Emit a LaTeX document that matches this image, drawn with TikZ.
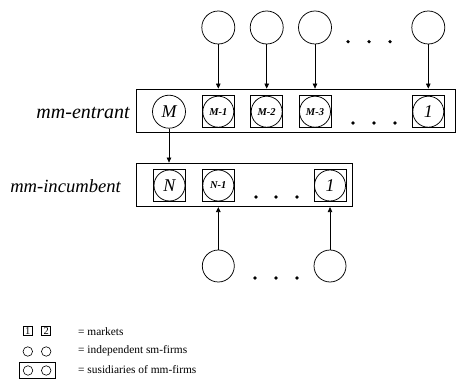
\documentclass[tikz,border=0pt]{standalone}
\usepackage{fontspec}
\setmainfont{Liberation Serif}
\usetikzlibrary{arrows.meta}
\begin{document}
\begin{tikzpicture}[x=1pt,y=-1pt,
  lw/.style={line width=0.75pt},
  firm/.style={circle,draw,lw,minimum size=33pt,inner sep=0pt},
  sub/.style={circle,draw,lw,minimum size=31pt,inner sep=0pt,font=\itshape\fontsize{18}{18}\selectfont},
  subs/.style={sub,font=\itshape\bfseries\fontsize{10.5}{10.5}\selectfont},
  mkt/.style={rectangle,draw,lw,minimum size=32pt,inner sep=0pt},
  grp/.style={rectangle,draw,lw,inner sep=0pt},
  dot/.style={circle,fill,inner sep=0pt,minimum size=3.6pt},
  arr/.style={lw,-{Triangle[length=5pt,width=4.5pt]}},
  lab/.style={inner sep=0pt,anchor=east},
  leg/.style={font=\fontsize{11.4}{12}\selectfont,anchor=west,inner sep=0pt},
  lsq/.style={rectangle,draw,line width=0.6pt,minimum size=9pt,inner sep=0pt,font=\fontsize{10.5}{10}\selectfont},
  lci/.style={circle,draw,line width=0.6pt,minimum size=9.5pt,inner sep=0pt}]
\useasboundingbox (0,0) rectangle (457,379);
% top independent firms
\node[firm] (t1) at (218.3,27.5) {};
\node[firm] (t2) at (266.7,27.5) {};
\node[firm] (t3) at (315,27.5) {};
\node[firm] (t4) at (428.3,27.5) {};
\node[dot] (td1) at (348,41.7) {};
\node[dot] (td2) at (369,41.7) {};
\node[dot] (td3) at (390,41.7) {};
% entrant
\node[grp,minimum width=318.5pt,minimum height=43.5pt] (ebox) at (295.75,110.75) {};
\node[lab,font=\itshape\fontsize{20}{20}\selectfont] (elab) at (130,113) {mm-entrant};
\node[sub,minimum size=33pt] (eM) at (169,111.7) {M};
\node[mkt] (e1s) at (218.3,111.7) {};
\node[subs] (e1) at (218.3,111.7) {M-1};
\node[mkt] (e2s) at (266.7,111.7) {};
\node[subs] (e2) at (266.7,111.7) {M-2};
\node[mkt] (e3s) at (315,111.7) {};
\node[subs] (e3) at (315,111.7) {M-3};
\node[mkt] (e4s) at (428.3,111.7) {};
\node[sub] (e4) at (428.3,111.7) {1};
\node[dot] (ed1) at (353,123) {};
\node[dot] (ed2) at (374,123) {};
\node[dot] (ed3) at (395,123) {};
% incumbent
\node[grp,minimum width=215.8pt,minimum height=43.7pt] (ibox) at (244.4,184.85) {};
\node[lab,font=\itshape\fontsize{18.6}{19}\selectfont] (ilab) at (121,186.5) {mm-incumbent};
\node[mkt] (i1s) at (169.5,185.5) {};
\node[sub] (i1) at (169.5,185.5) {N};
\node[mkt] (i2s) at (218.3,185.5) {};
\node[subs] (i2) at (218.3,185.5) {N-1};
\node[mkt] (i3s) at (330,185.5) {};
\node[sub] (i3) at (330,185.5) {1};
\node[dot] (id1) at (256,197) {};
\node[dot] (id2) at (276,197) {};
\node[dot] (id3) at (297,197) {};
% bottom independent firms
\node[firm,minimum size=32pt] (b1) at (218.3,266) {};
\node[firm,minimum size=32pt] (b2) at (330,266) {};
\node[dot] (bd1) at (255,278) {};
\node[dot] (bd2) at (276,278) {};
\node[dot] (bd3) at (297,278) {};
% arrows
\draw[arr] (t1) -- (t1 |- ebox.north);
\draw[arr] (t2) -- (t2 |- ebox.north);
\draw[arr] (t3) -- (t3 |- ebox.north);
\draw[arr] (t4) -- (t4 |- ebox.north);
\draw[arr] (eM) -- (eM |- ibox.north);
\draw[arr] (b1) -- (b1 |- ibox.south);
\draw[arr] (b2) -- (b2 |- ibox.south);
% legend
\node[lsq] (lq1) at (27.8,331.2) {1};
\node[lsq] (lq2) at (46.2,331.2) {2};
\node[lci] (lc1) at (27.8,351.5) {};
\node[lci] (lc2) at (46.2,351.5) {};
\node[rectangle,draw,line width=0.6pt,minimum width=36.5pt,minimum height=16.5pt,inner sep=0pt] (lbox) at (37.3,370.25) {};
\node[lci] (lb1) at (28,370.5) {};
\node[lci] (lb2) at (46.2,370.5) {};
\node[leg] (lt1) at (78,331.5) {= markets};
\node[leg] (lt2) at (78,351) {= independent sm-firms};
\node[leg] (lt3) at (78,370) {= susidiaries of mm-firms};
\end{tikzpicture}
\end{document}
